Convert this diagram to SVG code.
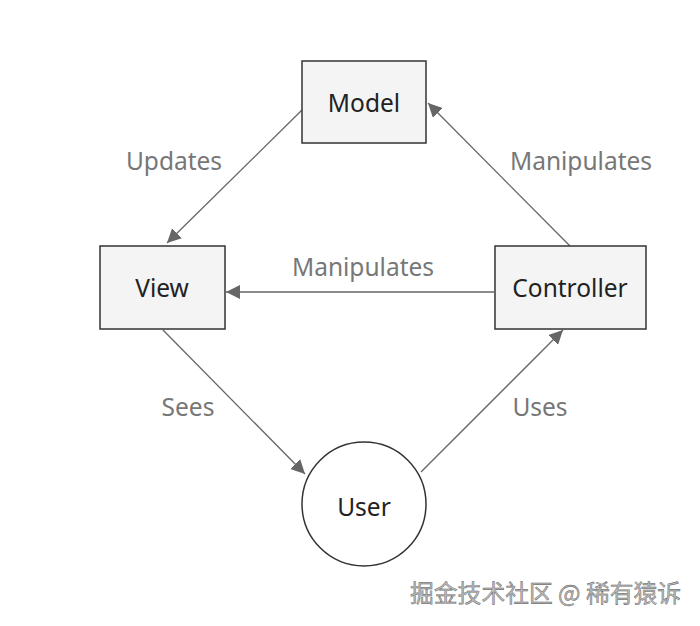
<svg xmlns="http://www.w3.org/2000/svg" width="700" height="626" viewBox="0 0 700 626">
<style>
.node{fill:#f4f4f4;stroke:#333;stroke-width:1.5}
.nt{font-family:"Noto Sans","Liberation Sans",sans-serif;font-size:24.5px;fill:#222;text-anchor:middle;dominant-baseline:central}
.lbl{font-family:"Noto Sans","Liberation Sans",sans-serif;font-size:24.5px;fill:#777;text-anchor:middle;dominant-baseline:central}
.edge{stroke:#666;stroke-width:1.3;fill:none;marker-end:url(#arr)}
.wm{font-family:"Noto Sans CJK SC",sans-serif;font-size:23.8px;fill:#bbb;stroke:#555;stroke-width:0.4}
</style>
<defs>
<marker id="arr" viewBox="0 0 10 10" refX="10" refY="5" markerWidth="14" markerHeight="14" markerUnits="userSpaceOnUse" orient="auto">
<path d="M0,0 L10,5 L0,10 z" fill="#666"/>
</marker>
</defs>
<rect width="700" height="626" fill="#fff"/>
<g id="edges">
<line class="edge" x1="302" y1="110" x2="167" y2="243"/>
<line class="edge" x1="570" y1="246" x2="428" y2="103"/>
<line class="edge" x1="494" y1="292" x2="226" y2="292"/>
<line class="edge" x1="163" y1="330" x2="305" y2="474"/>
<line class="edge" x1="421" y1="472" x2="563" y2="330"/>
<text class="lbl" x="174" y="160">Updates</text>
<text class="lbl" x="581" y="160">Manipulates</text>
<text class="lbl" x="363" y="266">Manipulates</text>
<text class="lbl" x="188" y="406">Sees</text>
<text class="lbl" x="540" y="406">Uses</text>
</g>
<g id="model"><rect class="node" x="302" y="61" width="124" height="82"/><text class="nt" x="364" y="102">Model</text></g>
<g id="view"><rect class="node" x="100" y="246" width="125" height="83"/><text class="nt" x="162" y="287">View</text></g>
<g id="controller"><rect class="node" x="495" y="246" width="151" height="83"/><text class="nt" x="570" y="287">Controller</text></g>
<g id="user"><circle cx="364" cy="504" r="62" fill="#fff" stroke="#333" stroke-width="1.5"/><text class="nt" x="364" y="506">User</text></g>
<text class="wm" x="410" y="602">掘金技术社区 @ 稀有猿诉</text>
</svg>
